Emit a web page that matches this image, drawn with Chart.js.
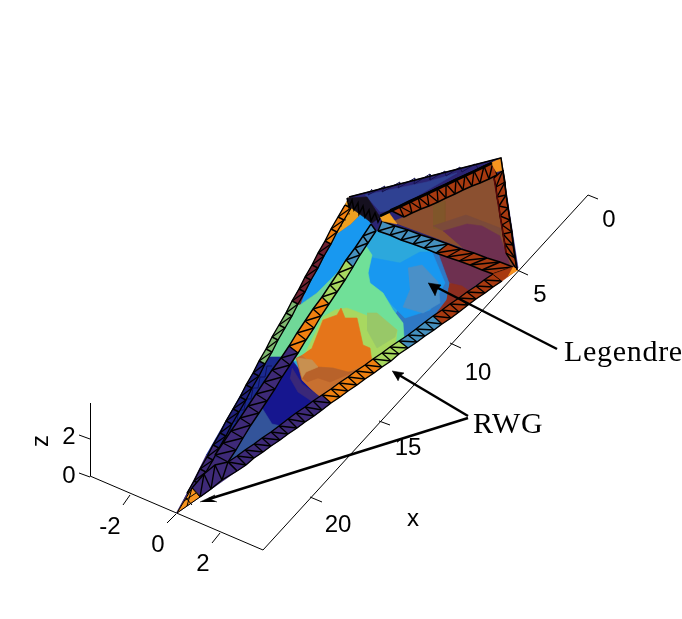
<!DOCTYPE html>
<html>
<head>
<meta charset="utf-8">
<style>
  html, body { margin: 0; padding: 0; background: #fff; }
  canvas { display: block; }
</style>
<script src="https://cdn.jsdelivr.net/npm/chart.js@4/dist/chart.umd.min.js"></script>
</head>
<body>
<canvas id="c" width="682" height="619"></canvas>
<script>
// tick labels and their spots on the projected plot
const xTickLabels = ['0', '5', '10', '15', '20'];
const xTickSpots = [[609, 220], [540, 295], [478, 373], [408, 448], [338, 525]];
const yTickLabels = ['-2', '0', '2'];
const yTickSpots = [[110, 527], [158, 545], [203, 564]];
const zTickLabels = ['2', '0'];
const zTickSpots = [[69, 437], [69, 476]];

// box lines and tick marks
const axisLines = [
  [[90.5, 403], [90.5, 476]], [[90, 476], [263, 550]], [[263, 550], [588, 195]], [[588, 195], [598, 199]],
  [[517, 270], [528, 275]], [[450, 343], [461, 348]], [[379, 421], [390, 425]], [[310, 497], [322, 502]],
  [[130, 495], [123, 505]], [[176, 514], [167, 523]], [[220, 533], [212, 543]],
  [[79, 435], [90, 439]], [[79, 473], [90, 477]]
];

// everything behind the faces
const silhouette = [[349, 197], [501, 158], [518, 268], [176, 513]];

// back faces
const navyFace = [[349, 197], [501, 158], [503, 170], [389, 213], [380, 218]];
const navyInner = [[365, 195], [427, 182], [457, 173], [393, 210], [380, 212]];
const brownFace = [[392, 222], [404, 217], [494, 176], [513, 267]];
const brownPatch = [[433, 205], [445, 201], [445, 231], [433, 228]];
const brownBand = [[433, 226], [466, 215], [500, 228], [500, 236], [482, 226], [467, 224], [443, 231]];
const maroonFace = [[443, 231], [467, 224], [482, 226], [500, 236], [510, 265], [465, 250]];

// left sliver
const sliverOrange = [[349, 197], [362, 213], [350, 225], [333, 237], [327, 237]];
const sliverBlue = [[362, 213], [371, 224], [347, 258], [337, 273], [317, 293], [300, 305], [304, 288], [322, 250], [333, 237], [350, 225]];
const sliverRed = [[327, 237], [333, 237], [320, 250], [300, 305], [290, 305]];
const sliverGreen = [[347, 258], [282, 357], [262, 357], [290, 305], [300, 305], [317, 293], [337, 273]];
const sliverNavy = [[262, 357], [282, 357], [215, 455], [206, 455]];
const sliverPurple = [[206, 455], [228, 462], [237, 471], [200, 497], [177, 513]];

// near face, back to front
const panelBase = [[376, 231], [493, 274], [228, 462]];
const panelMaroon = [[438, 253], [493, 274], [466, 292], [450, 283], [445, 281]];
const panelRed = [[449, 283], [462, 286], [469, 291], [434, 316], [430, 316], [446, 300]];
const panelDeepBlue = [[432, 252], [438, 253], [449, 283], [446, 300], [433, 317], [399, 341], [403, 323], [395, 315]];
const panelBrightBlue = [[368, 257], [400, 263], [420, 252], [432, 252], [445, 283], [430, 310], [405, 318], [392, 305], [383, 293], [370, 283]];
const panelSteel = [[408, 268], [422, 265], [438, 282], [440, 303], [423, 313], [403, 307], [410, 290]];
const panelGreen = [[364, 243], [372, 255], [368, 273], [370, 283], [383, 293], [393, 310], [403, 323], [404, 337], [393, 350], [360, 375], [292, 360], [330, 300]];
const panelLime = [[323, 317], [335, 310], [347, 308], [360, 313], [370, 317], [397, 330], [395, 350], [377, 365], [367, 367], [303, 357]];
const panelOlive = [[367, 313], [377, 313], [397, 330], [395, 337], [377, 348], [367, 330]];
const panelBrown = [[296, 358], [302, 380], [310, 388], [320, 397], [373, 359], [372, 362], [348, 372], [333, 368], [317, 367], [302, 355]];
const panelOrange = [[312, 348], [323, 320], [337, 315], [341, 308], [345, 318], [357, 318], [363, 345], [370, 348], [372, 362], [348, 372], [333, 368], [317, 367], [302, 355]];
const panelBandBrown = [[302, 378], [306, 372], [318, 367], [333, 368], [348, 372], [356, 371], [330, 382], [318, 378], [307, 382]];
const panelTan = [[297, 358], [312, 360], [318, 367], [306, 372], [302, 378]];
const panelLowNavy = [[292, 360], [320, 397], [228, 462]];
const panelPurple = [[292, 368], [302, 384], [320, 397], [313, 402], [298, 392], [290, 378]];
const panelSteelLow = [[228, 462], [262, 408], [272, 424], [281, 426], [242, 453]];

// mesh strips: two edges, node by node
const lowerInner = [[493, 274], [484, 280], [476, 286], [467, 292], [459, 298], [450, 304], [442, 310], [433, 316], [425, 322], [416, 329], [408, 335], [399, 341], [390, 347], [382, 353], [373, 359], [365, 365], [356, 371], [348, 377], [339, 383], [331, 389], [322, 395], [313, 401], [305, 407], [296, 413], [288, 419], [279, 426], [271, 432], [262, 438], [254, 444], [245, 450], [237, 456], [228, 462]];
const lowerOuter = [[502, 281], [493, 287], [485, 293], [476, 299], [468, 305], [459, 312], [451, 318], [442, 324], [434, 330], [425, 336], [417, 342], [408, 348], [399, 354], [391, 361], [382, 367], [374, 373], [365, 379], [357, 385], [348, 391], [340, 397], [331, 403], [322, 410], [314, 416], [305, 422], [297, 428], [288, 434], [280, 440], [271, 446], [263, 452], [254, 458], [246, 465], [237, 471]];
const leftInner = [[376, 231], [368, 243], [360, 255], [353, 267], [345, 280], [337, 292], [329, 304], [321, 316], [314, 328], [306, 340], [298, 353], [290, 365], [282, 377], [275, 389], [267, 401], [259, 413], [251, 425], [243, 438], [236, 450], [228, 462]];
const leftOuter = [[371, 224], [363, 236], [355, 248], [346, 260], [338, 273], [330, 285], [322, 297], [313, 309], [305, 321], [297, 333], [289, 346], [281, 358], [272, 370], [264, 382], [256, 394], [248, 406], [240, 418], [231, 431], [223, 443], [215, 455]];
const crossLower = [[378, 231], [390, 235], [401, 240], [413, 244], [424, 248], [436, 253], [447, 257], [459, 261], [470, 265], [482, 270], [493, 274]];
const crossUpper = [[382, 221], [395, 226], [408, 230], [421, 235], [434, 239], [448, 244], [461, 249], [474, 253], [487, 258], [500, 262], [513, 267]];
const ridgeUpper = [[390, 210], [399, 206], [409, 201], [418, 197], [427, 193], [437, 188], [446, 184], [456, 179], [465, 175], [474, 171], [484, 166], [493, 162]];
const ridgeLower = [[404, 217], [412, 213], [421, 209], [429, 206], [438, 202], [446, 198], [455, 194], [463, 190], [472, 186], [480, 183], [489, 179], [497, 175]];
const sideLeft = [[494, 178], [496, 187], [497, 197], [499, 206], [500, 216], [502, 225], [503, 234], [505, 244], [506, 253]];
const sideRight = [[503, 170], [505, 182], [506, 195], [508, 208], [510, 220], [512, 232], [513, 245], [515, 258], [517, 270]];
const rimOuter = [[345, 205], [338, 217], [331, 229], [325, 241], [318, 253], [312, 265], [305, 277], [299, 289], [292, 301], [286, 313], [279, 325], [272, 337], [266, 349], [259, 361], [253, 373], [246, 385], [240, 397], [233, 409], [226, 421], [220, 433], [213, 445], [207, 457], [200, 469], [194, 481], [187, 493]];
const rimInner = [[351, 208], [344, 220], [337, 232], [331, 244], [324, 256], [318, 268], [311, 280], [305, 292], [298, 304], [292, 316], [285, 328], [278, 340], [272, 352], [265, 364], [259, 376], [252, 388], [246, 400], [239, 412], [232, 424], [226, 436], [219, 448], [213, 460], [206, 472], [200, 484], [193, 496]];
const tipOuter = [[237, 471], [222, 480], [211, 489], [200, 497]];
const tipInner = [[228, 462], [215, 465], [204, 474], [192, 488]];

// dense and thin mesh bits
const cornerDark = [[347, 198], [367, 197], [380, 217], [372, 223], [350, 207]];
const cornerDense = [[347, 198], [349, 207], [352, 200], [354, 210], [358, 203], [359, 214], [363, 206], [365, 217], [369, 210], [371, 221], [375, 213], [378, 222], [381, 216]];
const orangeHatch = [[344, 208], [350, 214], [340, 214], [346, 220], [336, 221], [342, 226], [332, 228], [338, 232], [329, 235]];
const navyMesh = [[372, 189], [368, 195], [385, 186], [382, 192], [400, 182], [398, 188], [415, 178], [414, 184], [430, 174], [430, 180], [445, 171], [446, 176], [460, 167], [462, 172], [475, 164], [478, 168]];
const lowSliverMesh = [[272, 366], [267, 366], [265, 377], [260, 377], [258, 388], [253, 388], [251, 399], [246, 399], [244, 410], [239, 410], [237, 421], [232, 421], [230, 432], [225, 432], [223, 443], [218, 443]];
const topEdge = [[349, 197], [501, 158], [517, 270]];
const navyEdge = [[380, 216], [492, 163]];
const sideDark = [[494, 178], [506, 253]];

// tip and corners
const tipTriangle = [[177, 513], [192, 488], [200, 497]];
const tipLines = [[[184, 501], [196, 493]], [[186, 498], [192, 505]], [[192, 488], [187, 506]]];
const centreTriangle = [[380, 217], [389, 213], [397, 224], [382, 221]];
const peakTriangle = [[491, 163], [501, 158], [503, 170], [496, 172]];
const rightCorner = [[513, 267], [518, 270], [508, 276]];
const rightRed = [[493, 274], [513, 267], [517, 270], [502, 281]];

// callout arrows
const legendreShaft = [[557, 349], [436, 287]];
const legendreHead = [[428, 283], [441, 285], [437, 290], [435, 296]];
const rwgShaftA = [[468, 416], [399, 375]];
const rwgHeadA = [[392, 371], [404, 373], [400, 376], [398, 381]];
const rwgShaftB = [[468, 418], [209, 499]];
const rwgHeadB = [[200, 502], [215, 495], [210, 499], [217, 502]];

const red = '#A83A10', blue = '#4590BE', lime = '#A8D860', orange = '#F08010', purple = '#3E2A78';
const meshWidth = 1.4;

const datasets = [];
function addShape(points, colour) {
  datasets.push({
    data: points.map(p => ({ x: p[0], y: p[1] })),
    showLine: true, fill: 'shape', backgroundColor: colour, borderColor: colour,
    borderWidth: 0.6, pointRadius: 0, tension: 0
  });
}
function addLine(points, colour, width) {
  datasets.push({
    data: points.map(p => ({ x: p[0], y: p[1] })),
    showLine: true, fill: false, borderColor: colour,
    borderWidth: width, pointRadius: 0, tension: 0
  });
}
// runs = [[cell count, colour], ...]
function addStrip(a, b, runs) {
  let i = 0;
  runs.forEach(run => {
    for (let k = 0; k < run[0]; k++, i++) {
      addShape([a[i], b[i], b[i + 1], a[i + 1]], run[1]);
    }
  });
  // rungs and diagonals
  a.forEach((p, n) => {
    addLine([p, b[n]], '#000', meshWidth);
    if (n + 1 < a.length) addLine([b[n], a[n + 1]], '#000', meshWidth);
  });
  addLine(a, '#000', meshWidth);
  addLine(b, '#000', meshWidth);
}

axisLines.forEach(s => addLine(s, '#000', 1));

addShape(silhouette, '#2B2474');
addShape(navyFace, '#2B2474');
addShape(navyInner, '#2F4192');
addLine(navyMesh, '#14124F', 1);
addShape(brownFace, '#8B5030');
addShape(brownPatch, '#80562A');
addShape(brownBand, '#7B4A3A');
addShape(maroonFace, '#6E3050');

addShape(sliverOrange, '#EEA020');
addLine(orangeHatch, '#7A4A10', 1);
addShape(sliverBlue, '#1898F0');
addShape(sliverRed, '#7A2A30');
addShape(sliverGreen, '#70D898');
addShape(sliverNavy, '#1A2A90');
addShape(sliverPurple, purple);
addLine(lowSliverMesh, '#10105A', 1);
addStrip(rimOuter, rimInner, [[3, orange], [5, '#6E2030'], [5, '#7FB870'], [7, '#20207A'], [4, purple]]);

addShape(panelBase, '#2CA8DC');
addShape(panelMaroon, '#6E3050');
addShape(panelRed, '#8E2E20');
addShape(panelDeepBlue, '#2F78C4');
addShape(panelBrightBlue, '#1898F0');
addShape(panelSteel, '#4A90C8');
addShape(panelGreen, '#70E098');
addShape(panelLime, '#A8D860');
addShape(panelOlive, '#98C868');
addShape(panelLowNavy, '#16168F');
addShape(panelBrown, '#C87030');
addShape(panelOrange, '#E5751A');
addShape(panelBandBrown, '#B8622A');
addShape(panelTan, '#C89050');
addShape(panelPurple, '#3A2878');
addShape(panelSteelLow, '#33549A');

addStrip(ridgeUpper, ridgeLower, [[11, red]]);
addStrip(sideLeft, sideRight, [[8, red]]);
addLine(sideDark, '#5A0808', 1.5);
addStrip(crossUpper, crossLower, [[5, blue], [5, red]]);
addStrip(leftOuter, leftInner, [[3, blue], [3, lime], [4, orange], [9, purple]]);
addStrip(lowerInner, lowerOuter, [[7, red], [4, blue], [3, lime], [6, orange], [11, purple]]);
addStrip(tipOuter, tipInner, [[3, purple]]);

addShape(tipTriangle, '#F79420');
tipLines.forEach(s => addLine(s, '#000', 1));
addLine(tipTriangle.concat([tipTriangle[0]]), '#000', 1);
addShape(cornerDark, '#15101F');
addLine(cornerDense, '#000', 1.5);
addShape(centreTriangle, '#F2A020');
addShape(peakTriangle, '#F79420');
addShape(rightRed, red);
addShape(rightCorner, '#F79420');
addLine(topEdge, '#000', 1.5);
addLine(navyEdge, '#000', 2.5);

addLine(legendreShaft, '#000', 2.5);
addShape(legendreHead, '#000');
addLine(rwgShaftA, '#000', 2.5);
addShape(rwgHeadA, '#000');
addLine(rwgShaftB, '#000', 2.5);
addShape(rwgHeadB, '#000');

// later entries go on top
datasets.forEach((d, i) => { d.order = -i; });

const labelsPlugin = {
  id: 'plotLabels',
  afterDraw(chart) {
    const ctx = chart.ctx, sx = chart.scales.x, sy = chart.scales.y;
    const put = (text, spot, font, align) => {
      ctx.font = font;
      ctx.textAlign = align || 'center';
      ctx.textBaseline = 'middle';
      ctx.fillStyle = '#000';
      ctx.fillText(text, sx.getPixelForValue(spot[0]), sy.getPixelForValue(spot[1]));
    };
    const tickFont = '24px "Liberation Sans"';
    xTickLabels.forEach((t, i) => put(t, xTickSpots[i], tickFont));
    yTickLabels.forEach((t, i) => put(t, yTickSpots[i], tickFont));
    zTickLabels.forEach((t, i) => put(t, zTickSpots[i], tickFont));
    put('x', [413, 519], tickFont);
    ctx.save();
    ctx.translate(sx.getPixelForValue(41), sy.getPixelForValue(441));
    ctx.rotate(-Math.PI / 2);
    ctx.font = tickFont;
    ctx.textAlign = 'center';
    ctx.textBaseline = 'middle';
    ctx.fillText('z', 0, 0);
    ctx.restore();
    ctx.letterSpacing = '0.7px';
    put('Legendre', [564, 353], '30px "Liberation Serif"', 'left');
    put('RWG', [473, 425], '30px "Liberation Serif"', 'left');
    ctx.letterSpacing = '0px';
  }
};

new Chart(document.getElementById('c'), {
  type: 'scatter',
  data: { datasets },
  plugins: [labelsPlugin],
  options: {
    responsive: false,
    animation: false,
    devicePixelRatio: 1,
    layout: { padding: 0 },
    plugins: { legend: { display: false }, tooltip: { enabled: false } },
    scales: {
      x: { type: 'linear', min: 0, max: 682, display: false },
      y: { type: 'linear', min: 0, max: 619, reverse: true, display: false }
    }
  }
});
</script>
</body>
</html>
